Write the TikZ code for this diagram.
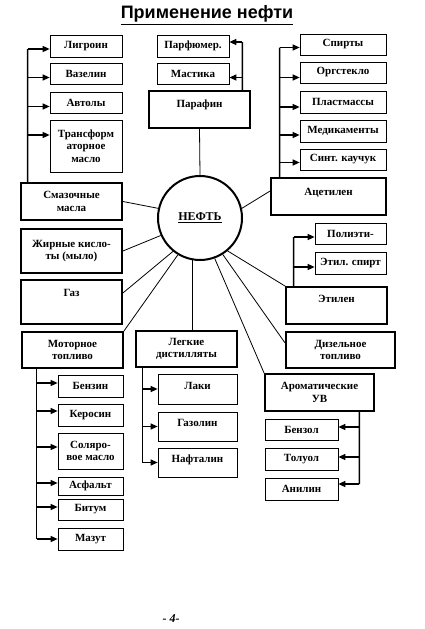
\documentclass[tikz,border=0pt]{standalone}
\usepackage{fontspec}
\setmainfont{Liberation Serif}
\newfontfamily\titlefont{Liberation Sans}
\usetikzlibrary{arrows.meta}
\begin{document}
\begin{tikzpicture}[x=1pt,y=-1pt,
  boxtext/.style={align=center,font=\bfseries\fontsize{11}{12.5}\selectfont},
  thinbox/.style={draw,line width=0.7pt,inner sep=1pt,boxtext},
  thickbox/.style={draw,line width=1.8pt,inner sep=1pt,boxtext},
  topbox/.style={inner ysep=0pt,text height=#1},
  bus/.style={line width=1.4pt},
  arr/.style={line width=1.2pt,-{Triangle[length=7pt,width=6pt]}},
  link/.style={line width=0.8pt}]
\useasboundingbox (0,0) rectangle (424,629);
% title
\node[font=\titlefont\bfseries\fontsize{18}{21}\selectfont] (title) at (207,15) {\underline{Применение нефти}};
% centre
\node[draw,circle,line width=2pt,minimum size=84pt,inner sep=0pt,font=\bfseries\fontsize{12}{14}\selectfont] (neft) at (200,218) {\underline{НЕФТЬ}};
% left column
\node[thinbox,minimum width=72pt,minimum height=22pt] (ligroin) at (86,46) {Лигроин};
\node[thinbox,minimum width=72pt,minimum height=21pt] (vazelin) at (86,73.5) {Вазелин};
\node[thinbox,minimum width=72pt,minimum height=21pt] (avtoly) at (86,102.5) {Автолы};
\node[thinbox,minimum width=72pt,minimum height=52pt] (transf) at (86,146) {Трансформ\\аторное\\масло};
\node[thickbox,minimum width=101pt,minimum height=37pt] (smaz) at (71.5,201.5) {Смазочные\\масла};
\node[thickbox,minimum width=101pt,minimum height=44pt] (zhir) at (71.5,251) {Жирные кисло-\\ты (мыло)};
\node[thickbox,topbox=16pt,text depth=28pt,minimum width=101pt,minimum height=44pt] (gaz) at (71.5,302) {Газ};
% paraffin group
\node[thinbox,minimum width=72pt,minimum height=22pt] (parfum) at (193,46) {Парфюмер.};
\node[thinbox,minimum width=72pt,minimum height=21pt] (mastika) at (193,73.5) {Мастика};
\node[thickbox,topbox=16pt,text depth=21pt,minimum width=101pt,minimum height=37pt] (parafin) at (199.5,109.5) {Парафин};
% right column
\node[thinbox,minimum width=86pt,minimum height=21pt] (spirty) at (343,44.5) {Спирты};
\node[thinbox,minimum width=86pt,minimum height=21pt] (orgst) at (343,72.5) {Оргстекло};
\node[thinbox,minimum width=86pt,minimum height=22pt] (plast) at (343,102) {Пластмассы};
\node[thinbox,minimum width=86pt,minimum height=22pt] (medik) at (343,131) {Медикаменты};
\node[thinbox,minimum width=86pt,minimum height=21pt] (sint) at (343,159.5) {Синт. каучук};
\node[thickbox,topbox=17pt,text depth=20pt,minimum width=115pt,minimum height=37pt] (acetilen) at (328.5,196.5) {Ацетилен};
\node[thinbox,minimum width=71pt,minimum height=21pt] (polieti) at (350.5,233.5) {Полиэти-};
\node[thinbox,minimum width=71pt,minimum height=22pt] (etilspirt) at (350.5,263) {Этил. спирт};
\node[thickbox,topbox=15pt,text depth=22pt,minimum width=101pt,minimum height=37pt] (etilen) at (336.5,305.5) {Этилен};
% lower row
\node[thickbox,minimum width=101pt,minimum height=36pt] (motor) at (72.5,350) {Моторное\\топливо};
\node[thickbox,minimum width=101pt,minimum height=36pt] (legkie) at (186.5,349) {Легкие\\дистилляты};
\node[thickbox,minimum width=109pt,minimum height=36pt] (dizel) at (340.5,350) {Дизельное\\топливо};
\node[thickbox,minimum width=109pt,minimum height=37pt] (aromat) at (319.5,392.5) {Ароматические\\УВ};
% motor fuel products
\node[thinbox,minimum width=65pt,minimum height=22pt] (benzin) at (90.5,386) {Бензин};
\node[thinbox,minimum width=65pt,minimum height=22pt] (kerosin) at (90.5,415) {Керосин};
\node[thinbox,minimum width=65pt,minimum height=36pt] (solyar) at (90.5,451) {Соляро-\\вое масло};
\node[thinbox,minimum width=65pt,minimum height=18pt] (asfalt) at (90.5,486) {Асфальт};
\node[thinbox,minimum width=65pt,minimum height=21pt] (bitum) at (90.5,509.5) {Битум};
\node[thinbox,minimum width=65pt,minimum height=22pt] (mazut) at (90.5,539) {Мазут};
% light distillates products
\node[thinbox,topbox=15pt,text depth=15pt,minimum width=79pt,minimum height=30pt] (laki) at (197.5,389) {Лаки};
\node[thinbox,topbox=14pt,text depth=15pt,minimum width=79pt,minimum height=29pt] (gazolin) at (197.5,426.5) {Газолин};
\node[thinbox,topbox=14pt,text depth=15pt,minimum width=79pt,minimum height=29pt] (naftalin) at (197.5,462.5) {Нафталин};
% aromatic products
\node[thinbox,minimum width=73pt,minimum height=21pt] (benzol) at (301.5,429.5) {Бензол};
\node[thinbox,minimum width=73pt,minimum height=22pt] (toluol) at (301.5,459) {Толуол};
\node[thinbox,minimum width=73pt,minimum height=22pt] (anilin) at (301.5,489) {Анилин};
% page number
\node[font=\bfseries\itshape\fontsize{12}{14}\selectfont] (page) at (171,619) {- 4-};

% bus coordinates
\coordinate (lbus) at (27.65,0);
\coordinate (pbus) at (242.35,0);
\coordinate (rbus) at (279.65,0);
\coordinate (ebus) at (293.65,0);
\coordinate (mbus) at (36.65,0);
\coordinate (gbus) at (142.65,0);
\coordinate (abus) at (359.35,0);

% links from the centre
\draw[link] (parafin.south) -- (neft.north);
\draw[link] (smaz.east) -- (neft.167);
\draw[link] (zhir.east) -- (neft.204);
\draw[link] ([yshift=9pt]gaz.east) -- (neft.231);
\draw[link] (motor.north east) -- (neft.239);
\draw[link] (neft.260) -- (neft.260 |- legkie.north);
\draw[link] (aromat.north west) -- (neft.290);
\draw[link] ([yshift=7pt]dizel.west) -- (neft.302);
\draw[link] (etilen.north west) -- (neft.310);
\draw[link] ([yshift=5.5pt]acetilen.west) -- (neft.13);

% left bus
\draw[bus] (lbus |- smaz.north) -- ([xshift=-22pt,yshift=-3pt]ligroin.west);
\draw[arr] ([xshift=-22pt,yshift=-3pt]ligroin.west) -- ([yshift=-3pt]ligroin.west);
\draw[arr] ([xshift=-22pt,yshift=-4pt]vazelin.west) -- ([yshift=-4pt]vazelin.west);
\draw[arr] ([xshift=-22pt,yshift=-4pt]avtoly.west) -- ([yshift=-4pt]avtoly.west);
\draw[arr] ([xshift=-22pt,yshift=11pt]transf.west) -- ([yshift=11pt]transf.west);

% paraffin bus
\draw[bus] (pbus |- parafin.north) -- ([xshift=13pt,yshift=4pt]parfum.east);
\draw[arr] ([xshift=13pt,yshift=4pt]parfum.east) -- ([yshift=4pt]parfum.east);
\draw[arr] ([xshift=13pt,yshift=-4pt]mastika.east) -- ([yshift=-4pt]mastika.east);

% right bus
\draw[bus] (rbus |- acetilen.north) -- ([xshift=-20pt,yshift=-3pt]spirty.west);
\draw[arr] ([xshift=-20pt,yshift=-3pt]spirty.west) -- ([yshift=-3pt]spirty.west);
\draw[arr] ([xshift=-20pt,yshift=-5pt]orgst.west) -- ([yshift=-5pt]orgst.west);
\draw[arr] ([xshift=-20pt,yshift=-5pt]plast.west) -- ([yshift=-5pt]plast.west);
\draw[arr] ([xshift=-20pt,yshift=-4pt]medik.west) -- ([yshift=-4pt]medik.west);
\draw[arr] ([xshift=-20pt,yshift=-3pt]sint.west) -- ([yshift=-3pt]sint.west);

% ethylene bus
\draw[bus] (ebus |- etilen.north) -- ([xshift=-21pt,yshift=-3.5pt]polieti.west);
\draw[arr] ([xshift=-21pt,yshift=-3.5pt]polieti.west) -- ([yshift=-3.5pt]polieti.west);
\draw[arr] ([xshift=-21pt,yshift=-4pt]etilspirt.west) -- ([yshift=-4pt]etilspirt.west);

% motor fuel bus
\draw[bus] (mbus |- motor.south) -- (mbus |- mazut.west);
\draw[arr] ([xshift=-21pt,yshift=3pt]benzin.west) -- ([yshift=3pt]benzin.west);
\draw[arr] ([xshift=-21pt,yshift=4pt]kerosin.west) -- ([yshift=4pt]kerosin.west);
\draw[arr] ([xshift=-21pt,yshift=4pt]solyar.west) -- ([yshift=4pt]solyar.west);
\draw[arr] ([xshift=-21pt,yshift=3pt]asfalt.west) -- ([yshift=3pt]asfalt.west);
\draw[arr] ([xshift=-21pt,yshift=2.5pt]bitum.west) -- ([yshift=2.5pt]bitum.west);
\draw[arr] ([xshift=-21pt]mazut.west) -- (mazut.west);

% light distillates bus
\draw[bus] (gbus |- legkie.south) -- (gbus |- naftalin.west);
\draw[arr] ([xshift=-15pt]laki.west) -- (laki.west);
\draw[arr] ([xshift=-15pt]gazolin.west) -- (gazolin.west);
\draw[arr] ([xshift=-15pt]naftalin.west) -- (naftalin.west);

% aromatic bus
\draw[bus] (abus |- aromat.south) -- ([xshift=21pt,yshift=5pt]anilin.east);
\draw[arr] ([xshift=21pt,yshift=2.5pt]benzol.east) -- ([yshift=2.5pt]benzol.east);
\draw[arr] ([xshift=21pt,yshift=2pt]toluol.east) -- ([yshift=2pt]toluol.east);
\draw[arr] ([xshift=21pt,yshift=5pt]anilin.east) -- ([yshift=5pt]anilin.east);
\end{tikzpicture}
\end{document}
